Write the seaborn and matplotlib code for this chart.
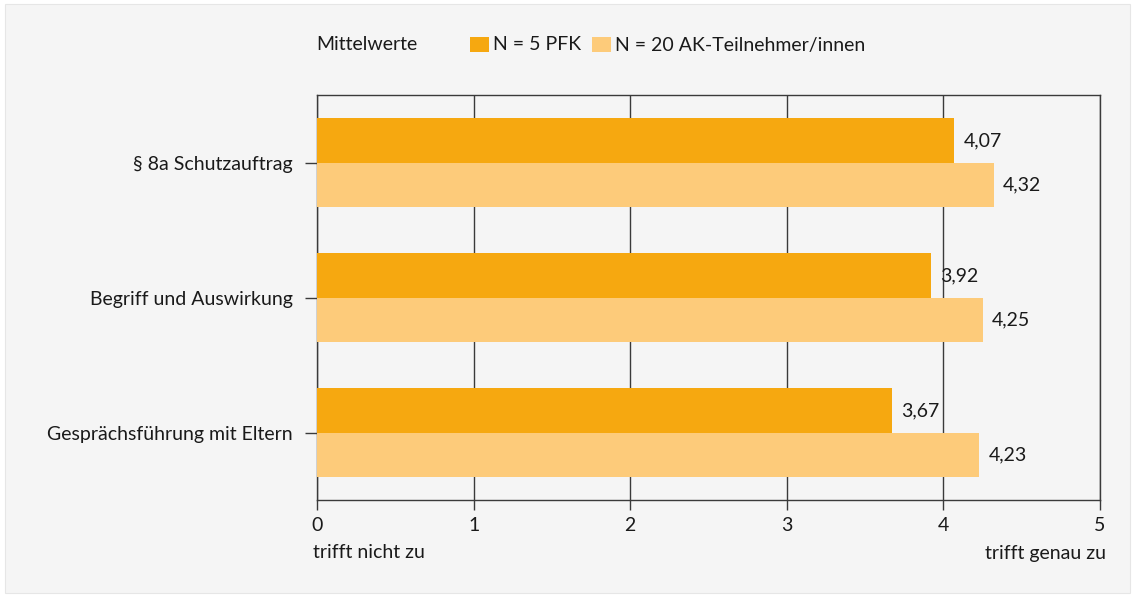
import matplotlib
matplotlib.use("Agg")
import matplotlib.pyplot as plt
from matplotlib.patches import Rectangle
import seaborn as sns
import pandas as pd

# Survey items and mean ratings (scale 0-5)
items = ["§ 8a Schutzauftrag", "Begriff und Auswirkung", "Gesprächsführung mit Eltern"]
groups = ["N = 5 PFK", "N = 20 AK-Teilnehmer/innen"]
pfk_means = [4.07, 3.92, 3.67]
ak_means = [4.32, 4.25, 4.23]
x_ticks = [0, 1, 2, 3, 4, 5]

colors = {"N = 5 PFK": "#F6A810", "N = 20 AK-Teilnehmer/innen": "#FDCB7A"}
bg = "#F5F5F5"
ink = "#1A1A1A"
line = "#3A3A3A"
fs = 14

df = pd.DataFrame({
    "item": items * 2,
    "group": [groups[0]] * 3 + [groups[1]] * 3,
    "mean": pfk_means + ak_means,
})

sns.set_theme(style="white")
plt.rcParams["font.family"] = ["Lato", "DejaVu Sans"]

W, H = 1134, 597
fig = plt.figure(figsize=(W / 100, H / 100), dpi=100, facecolor="white")
fig.patches.append(Rectangle((5 / W, 4 / H), 1125 / W, 589 / H, transform=fig.transFigure,
                             facecolor=bg, edgecolor="#E6E6E6", lw=0.8, zorder=-5))

ax = fig.add_axes([317 / W, 1 - 500 / H, 783 / W, 405 / H])
ax.set_zorder(2)
ax.set_facecolor(bg)

sns.barplot(data=df, x="mean", y="item", hue="group", order=items, hue_order=groups,
            palette=colors, orient="h", width=0.652, gap=0, saturation=1,
            legend=False, ax=ax, zorder=3, edgecolor="none", linewidth=0)

for container in ax.containers:
    ax.bar_label(container, labels=[f"{v:.2f}".replace(".", ",") for v in container.datavalues],
                 padding=6.5, fontsize=fs, color=ink)

ax.set_xlim(0, 5)
ax.set_ylim(2.5, -0.5)
ax.set_xticks(x_ticks)
ax.set_xticklabels([str(t) for t in x_ticks])
ax.set_xlabel("")
ax.set_ylabel("")
ax.xaxis.grid(True, color=line, lw=1.0, zorder=1)
ax.yaxis.grid(False)
for s in ax.spines.values():
    s.set_color(line)
    s.set_linewidth(1.0)
ax.tick_params(axis="x", bottom=True, length=7.2, width=1.0, color=line,
               labelsize=fs, labelcolor=ink, pad=5)
ax.tick_params(axis="y", left=True, length=8.6, width=1.0, color=line,
               labelsize=fs, labelcolor=ink, pad=8.6)
ax.set_axisbelow(True)

# Scale anchors under the axis
fig.text(313 / W, 1 - 553 / H, "trifft nicht zu", fontsize=fs, color=ink, va="center", ha="left")
fig.text(1106 / W, 1 - 553 / H, "trifft genau zu", fontsize=fs, color=ink, va="center", ha="right")

# Legend header row
fig.text(316 / W, 1 - 45 / H, "Mittelwerte", fontsize=fs, color=ink, va="center", ha="left")
legend_x = [470, 592]
for lx, g in zip(legend_x, groups):
    fig.patches.append(Rectangle((lx / W, 1 - 52 / H), 19 / W, 15 / H, transform=fig.transFigure,
                                 facecolor=colors[g], edgecolor="none", zorder=2))
    fig.text((lx + 23) / W, 1 - 45 / H, g, fontsize=fs, color=ink, va="center", ha="left")

fig.savefig("out.png", dpi=100, facecolor="white")
